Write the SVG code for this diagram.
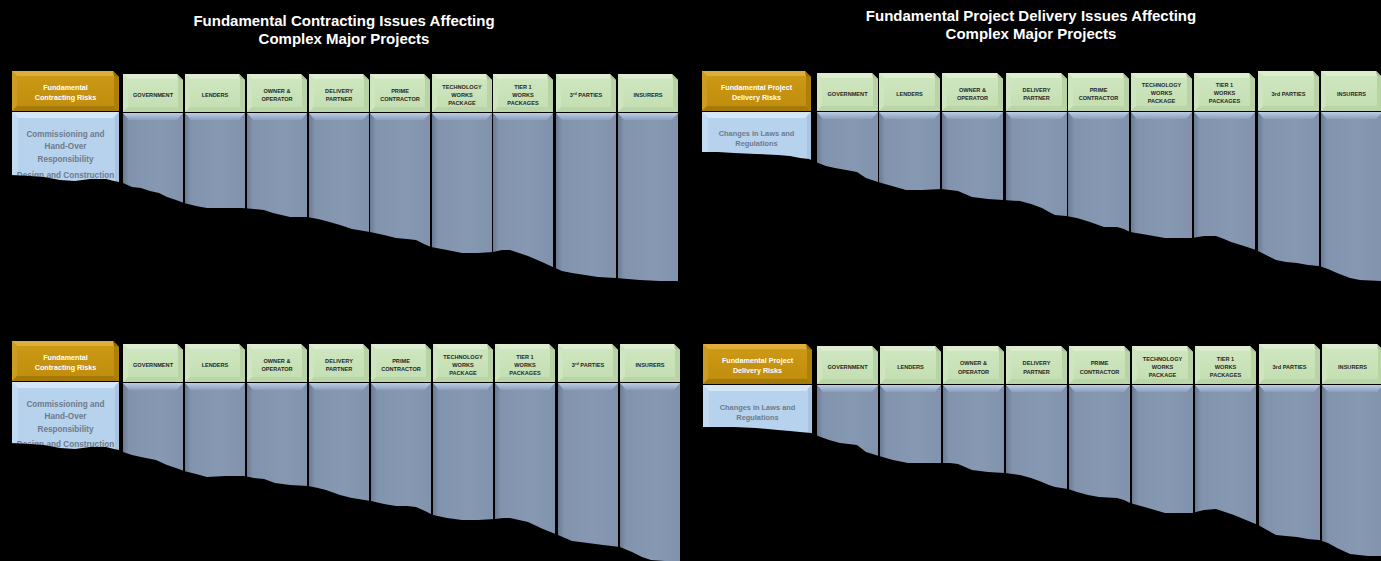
<svg xmlns="http://www.w3.org/2000/svg" xmlns:xlink="http://www.w3.org/1999/xlink" width="1381" height="561" viewBox="0 0 1381 561">
<style>
.t{font-family:"Liberation Sans",Arial,sans-serif;font-weight:bold;font-size:15px;fill:#fff;text-anchor:middle}
.h{font-family:"Liberation Sans",Arial,sans-serif;font-weight:bold;font-size:5.6px;fill:#262626;text-anchor:middle}
.g{font-family:"Liberation Sans",Arial,sans-serif;font-weight:bold;font-size:7.2px;fill:#fff;text-anchor:middle}
.b{font-family:"Liberation Sans",Arial,sans-serif;font-weight:bold;font-size:8.2px;fill:#6f7a8b;text-anchor:middle}
.b2{font-family:"Liberation Sans",Arial,sans-serif;font-weight:bold;font-size:7.4px;fill:#6f7a8b;text-anchor:middle}
.gr0{fill:url(#gGreen)}.gr1{fill:#dcedd0}.gr2{fill:#cfe5c0}.gr3{fill:#b8d3a4}.gr4{fill:#bad5a7}.gr5{fill:#a9c594}
.go0{fill:url(#gGold)}.go1{fill:#dcae3c}.go2{fill:#cc9c22}.go3{fill:#ad800b}.go4{fill:#a57a08}.go5{fill:#936c06}
.bl0{fill:#b6d2ed}.bl1{fill:#d5e6f6}.bl2{fill:#c3dbf1}.bl3{fill:#a8c4e0}
.bd0{fill:url(#gBody)}.bd1{fill:url(#gBodyTop)}
.torn{fill:#000}
</style>
<defs>
<linearGradient id="gGreen" x1="0" y1="0" x2="0" y2="1"><stop offset="0" stop-color="#d0e7c1"/><stop offset="1" stop-color="#c3deb1"/></linearGradient>
<linearGradient id="gGold" x1="0" y1="0" x2="0" y2="1"><stop offset="0" stop-color="#cd9b16"/><stop offset="1" stop-color="#bf8c0c"/></linearGradient>
<linearGradient id="gBody" x1="0" y1="0" x2="1" y2="0"><stop offset="0" stop-color="#6a7b93"/><stop offset="0.1" stop-color="#8294ad"/><stop offset="0.6" stop-color="#8799b2"/><stop offset="1" stop-color="#8193ac"/></linearGradient>
<linearGradient id="gBodyTop" x1="0" y1="0" x2="0" y2="1"><stop offset="0" stop-color="#bccde6"/><stop offset="1" stop-color="#8c9fb9"/></linearGradient>
<g id="hdrL">
<path class="gr0" d="M0,0H54L60,6V38H0Z"/><path class="gr1" d="M0,0H54L55,5H5Z"/><path class="gr2" d="M0,0L5,5V33L0,38Z"/><path class="gr3" d="M60,6V38L55,33V5Z"/><path class="gr4" d="M0,38H60L55,33H5Z"/><path class="gr5" d="M54,0L60,6L55,5Z"/>
</g>
<g id="hdrR">
<path class="gr0" d="M0,0H55L61,6V38H0Z"/><path class="gr1" d="M0,0H55L56,5H5Z"/><path class="gr2" d="M0,0L5,5V33L0,38Z"/><path class="gr3" d="M61,6V38L56,33V5Z"/><path class="gr4" d="M0,38H61L56,33H5Z"/><path class="gr5" d="M55,0L61,6L56,5Z"/>
</g>
<g id="hdrRt">
<path class="gr0" d="M0,0H55L61,6V40H0Z"/><path class="gr1" d="M0,0H55L56,5H5Z"/><path class="gr2" d="M0,0L5,5V35L0,40Z"/><path class="gr3" d="M61,6V40L56,35V5Z"/><path class="gr4" d="M0,40H61L56,35H5Z"/><path class="gr5" d="M55,0L61,6L56,5Z"/>
</g>
<g id="goldL">
<path class="go0" d="M0,0H101L107,6V40H0Z"/><path class="go1" d="M0,0H101L102,5H5Z"/><path class="go2" d="M0,0L5,5V35L0,40Z"/><path class="go3" d="M107,6V40L102,35V5Z"/><path class="go4" d="M0,40H107L102,35H5Z"/><path class="go5" d="M101,0L107,6L102,5Z"/>
</g>
<g id="goldR">
<path class="go0" d="M0,0H103L109,6V40H0Z"/><path class="go1" d="M0,0H103L104,5H5Z"/><path class="go2" d="M0,0L5,5V35L0,40Z"/><path class="go3" d="M109,6V40L104,35V5Z"/><path class="go4" d="M0,40H109L104,35H5Z"/><path class="go5" d="M103,0L109,6L104,5Z"/>
</g>
<g id="blueL">
<rect class="bl0" x="0" y="0" width="107" height="80"/><path class="bl1" d="M0,0H107L101,6H6Z"/><path class="bl2" d="M0,0L6,6V80H0Z"/><path class="bl3" d="M107,0V80H103V4Z"/>
</g>
<g id="blueR">
<rect class="bl0" x="0" y="0" width="109" height="60"/><path class="bl1" d="M0,0H109L103,6H6Z"/><path class="bl2" d="M0,0L6,6V60H0Z"/><path class="bl3" d="M109,0V60H105V4Z"/>
</g>
<g id="bodyL">
<rect class="bd0" x="0" y="0" width="60" height="190"/><path class="bd1" d="M0,0H60L54,7H6Z"/>
</g>
<g id="bodyR">
<rect class="bd0" x="0" y="0" width="61" height="190"/><path class="bd1" d="M0,0H61L55,7H6Z"/>
</g>
</defs>
<rect x="0" y="0" width="1381" height="561" fill="#000"/>

<g id="titles">
<text class="t" x="344" y="26">Fundamental Contracting Issues Affecting</text>
<text class="t" x="344" y="44">Complex Major Projects</text>
<text class="t" x="1031" y="21">Fundamental Project Delivery Issues Affecting</text>
<text class="t" x="1031" y="39">Complex Major Projects</text>
<text class="t" x="345" y="296">Allocation and Cascading of Fundamental</text>
<text class="t" x="345" y="314">Contracting and Project Delivery Risks</text>
<text class="t" x="1032" y="293">Limit of Liability for Fundamental</text>
<text class="t" x="1032" y="311">Contracting and Project Delivery Risks</text>
</g>

<!-- Top-left panel -->
<g id="panel-tl">
<g id="tl-risks-header"><use xlink:href="#goldL" x="12" y="71"/><text class="g" x="65.5" y="90">Fundamental</text><text class="g" x="65.5" y="99.5">Contracting Risks</text></g>
<g id="tl-risk-list"><use xlink:href="#blueL" x="12" y="112"/><text class="b" x="65.5" y="137">Commissioning and</text><text class="b" x="65.5" y="149">Hand-Over</text><text class="b" x="65.5" y="162">Responsibility</text><text class="b" x="65.5" y="178">Design and Construction</text></g>
<g id="tl-government"><use xlink:href="#bodyL" x="123" y="113"/><use xlink:href="#hdrL" x="123" y="74"/><text class="h" x="153" y="97">GOVERNMENT</text></g>
<g id="tl-lenders"><use xlink:href="#bodyL" x="185" y="113"/><use xlink:href="#hdrL" x="185" y="74"/><text class="h" x="215" y="97">LENDERS</text></g>
<g id="tl-owner"><use xlink:href="#bodyL" x="247" y="113"/><use xlink:href="#hdrL" x="247" y="74"/><text class="h" x="277" y="93">OWNER &amp;</text><text class="h" x="277" y="101">OPERATOR</text></g>
<g id="tl-delivery"><use xlink:href="#bodyL" x="309" y="113"/><use xlink:href="#hdrL" x="309" y="74"/><text class="h" x="339" y="93">DELIVERY</text><text class="h" x="339" y="101">PARTNER</text></g>
<g id="tl-prime"><use xlink:href="#bodyL" x="370" y="113"/><use xlink:href="#hdrL" x="370" y="74"/><text class="h" x="400" y="93">PRIME</text><text class="h" x="400" y="101">CONTRACTOR</text></g>
<g id="tl-technology"><use xlink:href="#bodyL" x="432" y="113"/><use xlink:href="#hdrL" x="432" y="74"/><text class="h" x="462" y="89">TECHNOLOGY</text><text class="h" x="462" y="97">WORKS</text><text class="h" x="462" y="105">PACKAGE</text></g>
<g id="tl-tier1"><use xlink:href="#bodyL" x="493" y="113"/><use xlink:href="#hdrL" x="493" y="74"/><text class="h" x="523" y="89">TIER 1</text><text class="h" x="523" y="97">WORKS</text><text class="h" x="523" y="105">PACKAGES</text></g>
<g id="tl-3rd"><use xlink:href="#bodyL" x="556" y="113"/><use xlink:href="#hdrL" x="556" y="74"/><text class="h" x="586" y="97">3<tspan font-size="3.8" dy="-2">rd</tspan><tspan dy="2"> PARTIES</tspan></text></g>
<g id="tl-insurers"><use xlink:href="#bodyL" x="618" y="113"/><use xlink:href="#hdrL" x="618" y="74"/><text class="h" x="648" y="97">INSURERS</text></g>
</g>

<!-- Top-right panel -->
<g id="panel-tr">
<g id="tr-risks-header"><use xlink:href="#goldR" x="702" y="71"/><text class="g" x="756.5" y="89.5">Fundamental Project</text><text class="g" x="756.5" y="99.5">Delivery Risks</text></g>
<g id="tr-risk-list"><use xlink:href="#blueR" x="702" y="112"/><text class="b2" x="756.5" y="136">Changes in Laws and</text><text class="b2" x="756.5" y="146">Regulations</text></g>
<g id="tr-government"><use xlink:href="#bodyR" x="817" y="112"/><use xlink:href="#hdrR" x="817" y="73"/><text class="h" x="847.5" y="95.5">GOVERNMENT</text></g>
<g id="tr-lenders"><use xlink:href="#bodyR" x="879" y="112"/><use xlink:href="#hdrR" x="879" y="73"/><text class="h" x="909.5" y="95.5">LENDERS</text></g>
<g id="tr-owner"><use xlink:href="#bodyR" x="942" y="112"/><use xlink:href="#hdrR" x="942" y="73"/><text class="h" x="972.5" y="91.5">OWNER &amp;</text><text class="h" x="972.5" y="100">OPERATOR</text></g>
<g id="tr-delivery"><use xlink:href="#bodyR" x="1006" y="112"/><use xlink:href="#hdrR" x="1006" y="73"/><text class="h" x="1036.5" y="91.5">DELIVERY</text><text class="h" x="1036.5" y="100">PARTNER</text></g>
<g id="tr-prime"><use xlink:href="#bodyR" x="1068" y="112"/><use xlink:href="#hdrR" x="1068" y="73"/><text class="h" x="1098.5" y="91.5">PRIME</text><text class="h" x="1098.5" y="100">CONTRACTOR</text></g>
<g id="tr-technology"><use xlink:href="#bodyR" x="1131" y="112"/><use xlink:href="#hdrR" x="1131" y="73"/><text class="h" x="1161.5" y="87">TECHNOLOGY</text><text class="h" x="1161.5" y="95">WORKS</text><text class="h" x="1161.5" y="103">PACKAGE</text></g>
<g id="tr-tier1"><use xlink:href="#bodyR" x="1194" y="112"/><use xlink:href="#hdrR" x="1194" y="73"/><text class="h" x="1224.5" y="87">TIER 1</text><text class="h" x="1224.5" y="95">WORKS</text><text class="h" x="1224.5" y="103">PACKAGES</text></g>
<g id="tr-3rd"><use xlink:href="#bodyR" x="1258" y="112"/><use xlink:href="#hdrRt" x="1258" y="71"/><text class="h" x="1288.5" y="95.5">3rd PARTIES</text></g>
<g id="tr-insurers"><use xlink:href="#bodyR" x="1321" y="112"/><use xlink:href="#hdrRt" x="1321" y="71"/><text class="h" x="1351.5" y="95.5">INSURERS</text></g>
</g>

<!-- Bottom-left panel -->
<g id="panel-bl" transform="translate(0,270)">
<g id="bl-risks-header"><use xlink:href="#goldL" x="12" y="71"/><text class="g" x="65.5" y="90">Fundamental</text><text class="g" x="65.5" y="99.5">Contracting Risks</text></g>
<g id="bl-risk-list"><use xlink:href="#blueL" x="12" y="112"/><text class="b" x="65.5" y="137">Commissioning and</text><text class="b" x="65.5" y="149">Hand-Over</text><text class="b" x="65.5" y="162">Responsibility</text><text class="b" x="65.5" y="177">Design and Construction</text></g>
<g id="bl-government"><use xlink:href="#bodyL" x="123" y="113"/><use xlink:href="#hdrL" x="123" y="74"/><text class="h" x="153" y="97">GOVERNMENT</text></g>
<g id="bl-lenders"><use xlink:href="#bodyL" x="185" y="113"/><use xlink:href="#hdrL" x="185" y="74"/><text class="h" x="215" y="97">LENDERS</text></g>
<g id="bl-owner"><use xlink:href="#bodyL" x="247" y="113"/><use xlink:href="#hdrL" x="247" y="74"/><text class="h" x="277" y="93">OWNER &amp;</text><text class="h" x="277" y="101">OPERATOR</text></g>
<g id="bl-delivery"><use xlink:href="#bodyL" x="309" y="113"/><use xlink:href="#hdrL" x="309" y="74"/><text class="h" x="339" y="93">DELIVERY</text><text class="h" x="339" y="101">PARTNER</text></g>
<g id="bl-prime"><use xlink:href="#bodyL" x="371" y="113"/><use xlink:href="#hdrL" x="371" y="74"/><text class="h" x="401" y="93">PRIME</text><text class="h" x="401" y="101">CONTRACTOR</text></g>
<g id="bl-technology"><use xlink:href="#bodyL" x="433" y="113"/><use xlink:href="#hdrL" x="433" y="74"/><text class="h" x="463" y="89">TECHNOLOGY</text><text class="h" x="463" y="97">WORKS</text><text class="h" x="463" y="105">PACKAGE</text></g>
<g id="bl-tier1"><use xlink:href="#bodyL" x="495" y="113"/><use xlink:href="#hdrL" x="495" y="74"/><text class="h" x="525" y="89">TIER 1</text><text class="h" x="525" y="97">WORKS</text><text class="h" x="525" y="105">PACKAGES</text></g>
<g id="bl-3rd"><use xlink:href="#bodyL" x="558" y="113"/><use xlink:href="#hdrL" x="558" y="74"/><text class="h" x="588" y="97">3<tspan font-size="3.8" dy="-2">rd</tspan><tspan dy="2"> PARTIES</tspan></text></g>
<g id="bl-insurers"><use xlink:href="#bodyL" x="620" y="113"/><use xlink:href="#hdrL" x="620" y="74"/><text class="h" x="650" y="97">INSURERS</text></g>
</g>

<!-- Bottom-right panel -->
<g id="panel-br" transform="translate(0,273)">
<g id="br-risks-header"><use xlink:href="#goldR" x="703" y="71"/><text class="g" x="757.5" y="89.5">Fundamental Project</text><text class="g" x="757.5" y="99.5">Delivery Risks</text></g>
<g id="br-risk-list"><use xlink:href="#blueR" x="703" y="112"/><text class="b2" x="757.5" y="137">Changes in Laws and</text><text class="b2" x="757.5" y="147">Regulations</text></g>
<g id="br-government"><use xlink:href="#bodyR" x="817" y="112"/><use xlink:href="#hdrR" x="817" y="73"/><text class="h" x="847.5" y="96">GOVERNMENT</text></g>
<g id="br-lenders"><use xlink:href="#bodyR" x="880" y="112"/><use xlink:href="#hdrR" x="880" y="73"/><text class="h" x="910.5" y="96">LENDERS</text></g>
<g id="br-owner"><use xlink:href="#bodyR" x="943" y="112"/><use xlink:href="#hdrR" x="943" y="73"/><text class="h" x="973.5" y="92">OWNER &amp;</text><text class="h" x="973.5" y="100.5">OPERATOR</text></g>
<g id="br-delivery"><use xlink:href="#bodyR" x="1006" y="112"/><use xlink:href="#hdrR" x="1006" y="73"/><text class="h" x="1036.5" y="92">DELIVERY</text><text class="h" x="1036.5" y="100.5">PARTNER</text></g>
<g id="br-prime"><use xlink:href="#bodyR" x="1069" y="112"/><use xlink:href="#hdrR" x="1069" y="73"/><text class="h" x="1099.5" y="92">PRIME</text><text class="h" x="1099.5" y="100.5">CONTRACTOR</text></g>
<g id="br-technology"><use xlink:href="#bodyR" x="1132" y="112"/><use xlink:href="#hdrR" x="1132" y="73"/><text class="h" x="1162.5" y="87.5">TECHNOLOGY</text><text class="h" x="1162.5" y="95.5">WORKS</text><text class="h" x="1162.5" y="103.5">PACKAGE</text></g>
<g id="br-tier1"><use xlink:href="#bodyR" x="1195" y="112"/><use xlink:href="#hdrR" x="1195" y="73"/><text class="h" x="1225.5" y="87.5">TIER 1</text><text class="h" x="1225.5" y="95.5">WORKS</text><text class="h" x="1225.5" y="103.5">PACKAGES</text></g>
<g id="br-3rd"><use xlink:href="#bodyR" x="1259" y="112"/><use xlink:href="#hdrRt" x="1259" y="71"/><text class="h" x="1289.5" y="96">3rd PARTIES</text></g>
<g id="br-insurers"><use xlink:href="#bodyR" x="1322" y="112"/><use xlink:href="#hdrRt" x="1322" y="71"/><text class="h" x="1352.5" y="96">INSURERS</text></g>
</g>

<!-- torn edges -->
<g id="torn-edges">
<path class="torn" d="M0,175 L11,175 L30,176 L44,177 L60,180 L75,181 L90,179 L106,179 L114,181 L119,182 L123,183 L132,187 L141,188 L150,191 L159,193 L167,197 L176,200 L184,203 L196,206 L207,208 L225,208 L242,208 L254,209 L264,210 L273,213 L290,217 L307,217 L318,219 L326,221 L340,225 L352,229 L370,232 L384,235 L396,238 L407,239 L416,240 L424,244 L431,247 L447,250 L462,253 L478,253 L493,252 L502,250 L510,250 L519,253 L528,256 L542,262 L555,268 L562,271 L572,273 L585,275 L598,277 L616,278 L640,280 L660,281 L690,281 L690,340 L0,340 Z"/>
<path class="torn" d="M690,152 L701,152 L718,152 L734,153 L756,154 L778,155 L790,156 L800,158 L809,159 L818,163 L826,166 L835,168 L846,170 L857,172 L866,178 L878,182 L892,186 L906,190 L922,190 L941,189 L950,190 L958,191 L965,194 L972,197 L988,199 L1003,200 L1020,201 L1031,204 L1042,208 L1049,212 L1055,215 L1066,216 L1077,218 L1090,222 L1104,227 L1117,227 L1124,229 L1130,232 L1148,235 L1165,238 L1180,238 L1192,238 L1204,236 L1216,236 L1224,239 L1231,242 L1244,246 L1256,250 L1266,255 L1276,260 L1286,262 L1297,263 L1308,265 L1319,266 L1328,269 L1337,273 L1350,278 L1360,280 L1381,281 L1381,340 L690,340 Z"/>
<path class="torn" d="M0,443 L11,443 L30,444 L44,445 L60,448 L75,449 L90,447 L106,447 L114,449 L119,450 L123,452 L132,455 L141,457 L156,460 L167,465 L176,468 L184,471 L196,474 L207,477 L225,476 L244,476 L254,478 L264,479 L275,483 L290,485 L308,486 L318,488 L326,490 L340,495 L352,498 L371,501 L384,504 L396,506 L407,506 L416,507 L425,511 L433,515 L447,518 L462,520 L478,520 L495,519 L503,518 L510,518 L519,520 L528,522 L543,529 L558,535 L565,538 L572,541 L588,543 L603,545 L620,547 L632,552 L642,557 L651,560 L665,561 L690,561 L690,561 L0,561 Z"/>
<path class="torn" d="M690,427 L701,427 L718,427 L734,427 L756,428 L778,430 L790,431 L800,432 L811,433 L818,436 L829,440 L840,443 L857,445 L866,452 L879,456 L893,460 L908,463 L925,463 L941,463 L950,463 L958,464 L965,467 L972,470 L988,472 L1005,473 L1020,475 L1031,478 L1042,482 L1049,485 L1055,487 L1068,489 L1077,492 L1088,495 L1099,497 L1117,498 L1124,500 L1130,503 L1148,508 L1165,513 L1180,513 L1192,513 L1204,510 L1216,509 L1225,512 L1234,515 L1246,520 L1258,525 L1267,530 L1276,535 L1286,536 L1297,537 L1308,539 L1319,540 L1328,543 L1337,548 L1350,554 L1368,556 L1381,556 L1381,561 L690,561 Z"/>
</g>
</svg>
